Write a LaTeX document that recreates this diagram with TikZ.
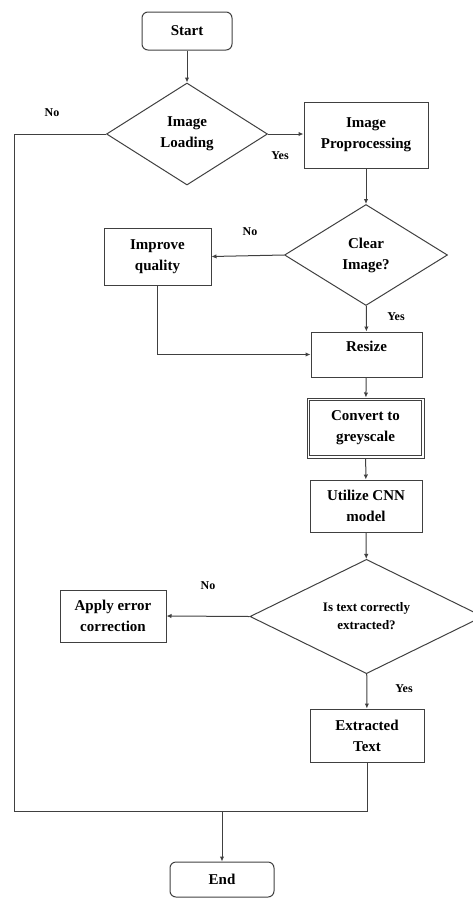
\documentclass[tikz,border=0pt]{standalone}
\usepackage{fontspec}
\setmainfont{Liberation Serif}
\usetikzlibrary{shapes.geometric, arrows.meta}

\tikzset{
    box/.style={draw=black!75, line width=1pt, rectangle, inner sep=0pt, align=center,
        font=\bfseries\fontsize{15}{21}\selectfont},
    terminal/.style={box, rounded corners=6pt},
    decision/.style={draw=black!75, line width=1pt, diamond, inner sep=0pt, align=center,
        font=\bfseries\fontsize{15}{21}\selectfont},
    lbl/.style={font=\bfseries\fontsize{12}{14}\selectfont},
    arr/.style={draw=black!75, line width=1pt, -{Latex[length=5pt,width=4.5pt]}},
    line/.style={draw=black!75, line width=1pt}
}

\begin{document}
\begin{tikzpicture}[x=1pt, y=-1pt]
    \useasboundingbox (0,0) rectangle (473,898);

    \node[terminal, minimum width=90, minimum height=38] at (187,31)    (start)   {Start};
    \node[decision, minimum width=161, minimum height=102] at (187,134) (load)    {Image\\Loading};
    \node[box, minimum width=124, minimum height=66] at (366,135)       (prep)    {Image\\Proprocessing};
    \node[decision, minimum width=163, minimum height=101] at (366,255) (clear)   {Clear\\Image?};
    \node[box, minimum width=107, minimum height=57] at (157.5,256.5)   (improve) {Improve\\quality};
    \node[box, minimum width=111, minimum height=45, text depth=16pt] at (366.5,354.5) (resize) {Resize};
    \node[box, minimum width=117, minimum height=60] at (365.5,428)     (grey)    {Convert to\\greyscale};
    \node[box, minimum width=112, minimum height=52] at (366,506)       (cnn)     {Utilize CNN\\model};
    \node[decision, minimum width=233, minimum height=103,
        font=\bfseries\fontsize{13}{18}\selectfont] at (366.5,616.5)    (check)   {Is text correctly\\extracted?};
    \node[box, minimum width=106, minimum height=52] at (113,616)       (fix)     {Apply error\\correction};
    \node[box, minimum width=114, minimum height=53] at (367,735.5)     (extract) {Extracted\\Text};
    \node[terminal, minimum width=104, minimum height=35] at (222,879.5) (end)    {End};

    % inner border of the greyscale box
    \draw[line] ([shift={(3,3)}]grey.north west) rectangle ([shift={(-3,-3)}]grey.south east);

    \node[lbl] at (52,113)  (no1)  {No};
    \node[lbl] at (280,156) (yes1) {Yes};
    \node[lbl] at (250,232) (no2)  {No};
    \node[lbl] at (396,317) (yes2) {Yes};
    \node[lbl] at (208,586) (no3)  {No};
    \node[lbl] at (404,689) (yes3) {Yes};

    \coordinate (left) at (14,811);
    \coordinate (join) at (222,811);

    \draw[arr] (start) -- (load);
    \draw[arr] (load.east) -- (load.east -| prep.west);
    \draw[arr] (prep) -- (clear);
    \draw[arr] (clear.west) -- (improve.east);
    \draw[arr] (clear) -- (resize);
    \draw[arr] (improve.south) |- (resize.west);
    \draw[arr] (resize) -- (grey);
    \draw[arr] (grey) -- (cnn);
    \draw[arr] (cnn) -- (check);
    \draw[arr] (check.west) -- (fix.east);
    \draw[arr] (check) -- (extract);
    \draw[line] (load.west) -| (left) -- (join);
    \draw[line] (extract.south) |- (join);
    \draw[arr] (join) -- (end);
\end{tikzpicture}
\end{document}
